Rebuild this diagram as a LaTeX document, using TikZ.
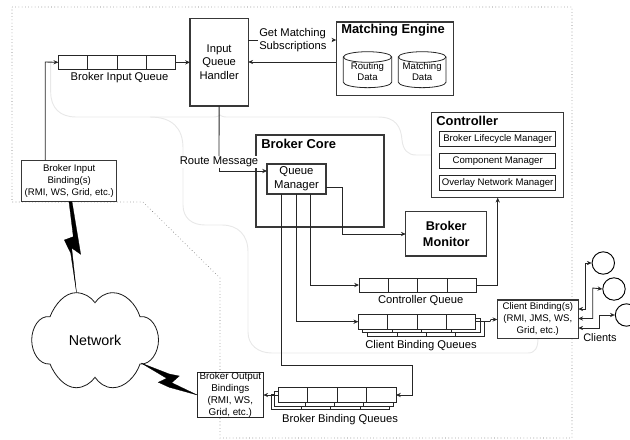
\documentclass[tikz,border=0pt]{standalone}
\usepackage{fontspec}
\setmainfont{Liberation Sans}
\usetikzlibrary{arrows.meta,calc}
\tikzset{
  ln/.style={line width=0.65pt,draw=black!85},
  arr/.style={ln,-{Stealth[length=3.6pt,width=3.2pt]}},
  both/.style={ln,{Stealth[length=3.6pt,width=3.2pt]}-{Stealth[length=3.6pt,width=3.2pt]}},
  boxy/.style={draw=black!85,line width=0.7pt,inner sep=0pt,outer sep=0pt,align=center,fill=white},
  heavy/.style={boxy,line width=0.85pt,draw=black!78},
  ghost/.style={draw=black!9,line width=0.7pt},
  border/.style={draw=black!55,line width=0.45pt,dotted},
  bolt/.style={fill=black,draw=black,line width=0.2pt},
  lab/.style={inner sep=0pt,font=\fontsize{8.4pt}{10pt}\selectfont,align=center},
  small/.style={font=\fontsize{7.2pt}{9pt}\selectfont},
  title/.style={inner sep=0pt,font=\fontsize{9.7pt}{11.5pt}\selectfont\bfseries,align=center},
  client/.style={circle,draw=black,line width=0.7pt,minimum size=16.8pt,inner sep=0pt}
}
\newcommand\bx[7]{%
  \pgfmathsetmacro\bxw{(#4-#2)*0.75}\pgfmathsetmacro\bxh{(#5-#3)*0.75}%
  \node[#6,minimum width=\bxw pt,minimum height=\bxh pt] (#1) at ({(#2+#4)/2},{(#3+#5)/2}) {#7};}
\newcommand\qu[5]{%
  \bx{#1}{#2}{#3}{#4}{#5}{boxy}{}%
  \foreach \f in {0.25,0.5,0.75}{\draw[ln] ($(#1.north west)!\f!(#1.north east)$) -- ($(#1.south west)!\f!(#1.south east)$);}}
\newcommand\cyl[7]{% name x1 x2 ytop ybot line1 line2
  \draw[ln,line width=0.6pt] (#2,#4+5.3) arc[start angle=180,end angle=0,x radius={(#3-#2)/2*0.75pt},y radius=3.975pt]
    -- (#3,#5-5.5) arc[start angle=0,end angle=-180,x radius={(#3-#2)/2*0.75pt},y radius=4.1pt] -- cycle;
  \draw[ln,line width=0.6pt] (#2,#4+5.3) arc[start angle=180,end angle=360,x radius={(#3-#2)/2*0.75pt},y radius=3.975pt];
  \node[lab,small] (#1a) at ({(#2+#3)/2},#4+15) {#6};
  \node[lab,small] (#1b) at ({(#2+#3)/2},#4+26) {#7};}
\begin{document}
\begin{tikzpicture}[x=0.75pt,y=-0.75pt]
\useasboundingbox (0,0) rectangle (630,439);
% guides
\foreach \n/\v in {xa/45.3,xb/219,xc/281.3,xd/296,xe/310.7,xf/342.7,xg/412.7,xh/497.7,xi/585,xj/592.7,xk/599,xl/258,xm/326}
  \coordinate (\n) at (\v,0);
\foreach \n/\v in {ya/62,yb/171,yc/187,yd/234,ye/285,yf/321.7,yg/365.7,yh/395,yi/40,yj/309,yk/318.5,yl/328,ym/263,yn/288,yo/315}
  \coordinate (\n) at (0,\v);
% dotted region
\draw[border] (12,7) -- (572,7) -- (572,438) -- (220,438) -- (220,278) -- (143,202) -- (12,202) -- cycle;
% pale routes
\draw[ghost] (50.7,63) -- (50.7,92) .. controls (50.7,108) and (60,117) .. (76,117) -- (214,117)
  .. controls (218,117) and (220,115) .. (220,115) .. controls (220,115) and (222,117) .. (226,117) -- (378,117)
  .. controls (396,117) and (401,127) .. (402,140) .. controls (403,150) and (408,155) .. (416,155) -- (432,155);
\draw[ghost] (150,117) .. controls (172,117) and (183,128) .. (183,148) -- (183,205)
  .. controls (183,218) and (192,225) .. (205,225) -- (222,225)
  .. controls (238,225) and (248,235) .. (248,252) -- (248,332)
  .. controls (248,345) and (258,353) .. (272,353) -- (528,353) .. controls (535,353) and (538,348) .. (538,338);
% queues
\qu{biq}{58.3}{55}{175.7}{69.7}
\node[lab] (biql) at (119.5,77.5) {Broker Input Queue};
\qu{cq}{359}{278}{476.7}{292.7}
\node[lab] (cql) at (420.7,300.7) {Controller Queue};
% client binding queue layers
\draw[ln] (362.7,329.3) -- (362.7,332.7) -- (480,332.7) -- (480,318) -- (475.7,318);
\draw[ln] (367.3,332.7) -- (367.3,336) -- (484.3,336) -- (484.3,321) -- (480,321);
\foreach \x in {392.3,421.5,451}{\draw[ln] (\x,329.3) -- (\x,332.7);}
\foreach \x in {397,426,455}{\draw[ln] (\x,332.7) -- (\x,336);}
\qu{cbq}{358.3}{314.7}{475.7}{329.3}
\node[lab] (cbql) at (421,346) {Client Binding Queues};
% broker binding queue layers
\draw[ln] (393,402.3) -- (393,406) -- (274.7,406) -- (274.7,391) -- (278.3,391);
\draw[ln] (389,406) -- (389,409.5) -- (271.7,409.5) -- (271.7,394.5) -- (274.7,394.5);
\foreach \x in {305,334,363.3}{\draw[ln] (\x,402.3) -- (\x,406);}
\foreach \x in {301.7,330.7,360}{\draw[ln] (\x,406) -- (\x,409.5);}
\qu{bbq}{278.3}{387.7}{396}{402.3}
\node[lab] (bbql) at (340,419.3) {Broker Binding Queues};
% main boxes
\bx{iqh}{190}{18.3}{248.3}{106}{heavy,font=\fontsize{8.4pt}{10.4pt}\selectfont}{Input\\Queue\\Handler}
\bx{me}{336.3}{22}{453.3}{95.3}{heavy}{}
\node[title,anchor=west] (mel) at (341,30) {Matching Engine};
\cyl{rd}{343.3}{391.7}{51.7}{87.7}{Routing}{Data}
\cyl{md}{398.3}{446}{51.7}{87.7}{Matching}{Data}
\bx{ctl}{431.7}{112.7}{563.3}{197.7}{heavy}{}
\node[title,anchor=west] (ctll) at (436,121) {Controller};
\bx{blm}{439.7}{131.3}{555.7}{146.3}{boxy,small}{Broker Lifecycle Manager}
\bx{cm}{439.7}{153.3}{555.7}{168.3}{boxy,small}{Component Manager}
\bx{onm}{439.7}{175.3}{555.7}{190.3}{boxy,small}{Overlay Network Manager}
\bx{bc}{256}{135}{384}{227}{heavy,fill=none}{}
\node[title,anchor=west] (bcl) at (261,144) {Broker Core};
\bx{qm}{267}{164}{326}{194}{heavy,font=\fontsize{8.5pt}{10.6pt}\selectfont}{Queue\\Manager}
\bx{bm}{405.7}{211.7}{486.7}{256}{heavy,font=\fontsize{9.5pt}{11.5pt}\selectfont\bfseries}{Broker\\Monitor}
\bx{bib}{21.7}{160.7}{116.7}{201.7}{heavy,font=\fontsize{7.2pt}{9pt}\selectfont}{Broker Input\\Binding(s)\\(RMI, WS, Grid, etc.)}
\bx{bob}{197.3}{372.7}{263.3}{417.7}{boxy,font=\fontsize{7.4pt}{9pt}\selectfont}{Broker Output\\Bindings\\(RMI, WS,\\Grid, etc.)}
\bx{cb}{497.3}{300}{578.3}{338.3}{heavy,font=\fontsize{7.2pt}{9pt}\selectfont}{Client Binding(s)\\(RMI, JMS, WS,\\Grid, etc.)}
% clients
\node[client] (c1) at (603.3,263) {};
\node[client] (c2) at (614,289) {};
\node[client] (c3) at (626.5,315) {};
\node[lab,font=\fontsize{8.2pt}{10pt}\selectfont] (cl) at (600,337.5) {Clients};
% labels
\node[lab,anchor=west,align=left] (gms) at (259,40) {Get Matching\\Subscriptions};
\coordinate (gmsr) at (332,40);
\node[lab,fill=white,inner xsep=1pt,inner ysep=0.5pt] (rm) at (219,162) {Route Message};
% connectors
\draw[arr] (xa |- bib.north) -- (xa |- ya) -- (biq.west);
\draw[arr] (biq.east) -- (biq.east -| iqh.west);
\draw[ln] (iqh.east |- yi) -- (xl |- yi);
\draw[arr] (gmsr) -- (me.west |- yi);
\draw[arr] (me.west |- ya) -- (iqh.east |- ya);
\draw[ln] (iqh.south) -- (rm.north);
\draw[arr] (rm.south -| xb) -- (xb |- yb) -- (qm.west |- yb);
\draw[arr] (qm.east |- yc) -- (xf |- yc) -- (xf |- yd) -- (bm.west |- yd);
\draw[arr] (xc |- qm.south) -- (xc |- yg) -- (xg |- yg) -- (xg |- yh) -- (bbq.east |- yh);
\draw[arr] (xd |- qm.south) -- (xd |- yf) -- (cbq.west |- yf);
\draw[arr] (xe |- qm.south) -- (xe |- ye) -- (cq.west |- ye);
\draw[arr] (cq.east |- ye) -- (xh |- ye) -- (xh |- ctl.south);
\draw[arr] (bbq.west |- yh) -- (bob.east |- yh);
\draw[arr] (cbq.east |- 0,321.5) -- (490,321.5) -- (491,319.5) -- (cb.west |- 0,319.5);
\draw[both] (cb.east |- yj) -- (xi |- yj) -- (xi |- ym) -- (c1.west);
\draw[both] (cb.east |- yk) -- (xj |- yk) -- (xj |- yn) -- (c2.west);
\draw[both] (cb.east |- yl) -- (xk |- yl) -- (xk |- yo) -- (c3.west);
% cloud
\draw[line width=0.6pt,draw=black!90]
  (50,316.7) .. controls (55,304) and (65,292.7) .. (76,292.7)
  .. controls (84,292.7) and (91,297) .. (95,302.7)
  .. controls (99,297) and (105,292.7) .. (113,292.7)
  .. controls (125,292.7) and (136,304) .. (140,316.7)
  .. controls (151,315) and (158.5,328) .. (158.5,340)
  .. controls (158.5,352) and (151,365) .. (140,364)
  .. controls (136,376) and (125,387.7) .. (113,387.7)
  .. controls (105,387.7) and (99,383) .. (95,377.3)
  .. controls (91,383) and (84,387.7) .. (76,387.7)
  .. controls (65,387.7) and (55,376) .. (50,364)
  .. controls (39,365) and (31.7,352) .. (31.7,340)
  .. controls (31.7,328) and (39,315) .. (50,316.7) -- cycle;
\node[inner sep=0pt,font=\fontsize{10.7pt}{12pt}\selectfont] (net) at (95,340) {Network};
% lightning
\fill[bolt] (69,201.7) -- (72,201.7) -- (80.7,254.3) -- (71.7,248) -- (76.5,292.5) -- (70.7,253) -- (64.3,240) -- (73.3,236.7) -- cycle;
\fill[bolt] (141,363) -- (169.3,374) -- (179.3,376) -- (171.7,382.7) -- (197.3,395) -- (169.3,387.3) -- (158.3,382.3) -- (166.7,378.3) -- cycle;
\end{tikzpicture}
\end{document}
